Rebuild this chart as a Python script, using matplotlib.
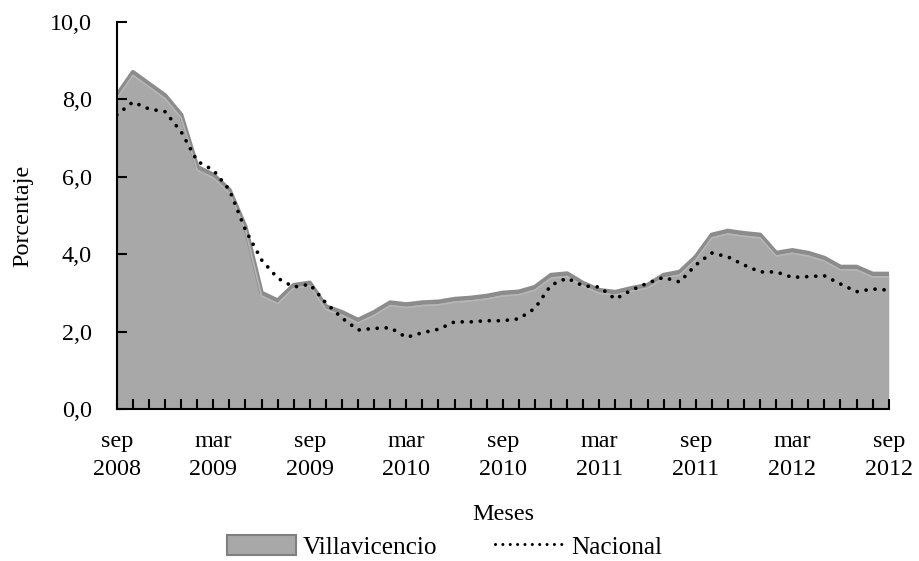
import matplotlib
matplotlib.use("Agg")
import matplotlib.pyplot as plt
from matplotlib.patches import Patch
from matplotlib.lines import Line2D

villavicencio = [8.1, 8.7, 8.4, 8.1, 7.6, 6.25, 6.05, 5.66, 4.7, 3.0, 2.8, 3.2,
                 3.26, 2.65, 2.5, 2.3, 2.5, 2.75, 2.7, 2.75, 2.77, 2.84, 2.87, 2.92,
                 3.0, 3.03, 3.15, 3.46, 3.5, 3.25, 3.07, 3.02, 3.12, 3.2, 3.46, 3.54,
                 3.93, 4.5, 4.6, 4.54, 4.5, 4.03, 4.1, 4.03, 3.9, 3.67, 3.67, 3.49, 3.49]
nacional = [7.6, 7.93, 7.75, 7.68, 7.16, 6.4, 6.17, 5.66, 4.62, 3.85, 3.38, 3.15,
            3.22, 2.74, 2.35, 2.04, 2.08, 2.1, 1.85, 1.97, 2.06, 2.25, 2.25, 2.28,
            2.28, 2.33, 2.6, 3.2, 3.38, 3.18, 3.15, 2.84, 3.07, 3.25, 3.4, 3.28,
            3.72, 4.03, 3.93, 3.72, 3.54, 3.54, 3.4, 3.42, 3.44, 3.23, 3.03, 3.1, 3.07]

tick_idx = list(range(0, 49, 6))
tick_labels = ["sep\n2008", "mar\n2009", "sep\n2009", "mar\n2010", "sep\n2010",
               "mar\n2011", "sep\n2011", "mar\n2012", "sep\n2012"]
y_ticks = [0, 2, 4, 6, 8, 10]

plt.rcParams['font.family'] = ['Liberation Serif', 'DejaVu Serif']
FS = 17.4
DOT = (0, (0.01, 2.4))

fig = plt.figure(figsize=(9.2, 5.61), dpi=100)
ax = fig.add_axes([0.127, 0.271, 0.839, 0.69])

x = list(range(len(villavicencio)))
ax.fill_between(x, 0, villavicencio, color='#a8a8a8', linewidth=0, zorder=1)
ax.plot(x, villavicencio, color='#8c8c8c', linewidth=3.2, solid_joinstyle='round', zorder=2)
ax.plot(x, [v - 0.08 for v in villavicencio], color='#b6b6b6', linewidth=1.2, zorder=2)
ax.plot(x, nacional, color='black', linewidth=2.7, linestyle=DOT,
        dash_capstyle='round', zorder=3)

ax.set_xlim(0, len(villavicencio) - 1)
ax.set_ylim(0, 10)
ax.set_yticks(y_ticks)
ax.set_yticklabels([f"{v:.1f}".replace('.', ',') for v in y_ticks], fontsize=FS)
ax.set_xticks(x, minor=True)
ax.set_xticks(tick_idx)
ax.set_xticklabels(tick_labels, fontsize=FS, linespacing=1.45)

for s in ['top', 'right']:
    ax.spines[s].set_visible(False)
for s in ['left', 'bottom']:
    ax.spines[s].set_linewidth(1.5)
    ax.spines[s].set_zorder(5)

ax.tick_params(axis='y', direction='in', length=7, width=1.5, pad=18)
ax.tick_params(axis='x', which='both', direction='in', length=7, width=1.5, pad=16)

fig.text(23/920, 1 - (22 + 409) / 2 / 561, "Porcentaje", rotation=90,
         ha='center', va='center', fontsize=FS)
fig.text(503/920, 1 - 520/561, "Meses", ha='center', va='baseline', fontsize=FS)

handles = [Patch(facecolor='#a8a8a8', edgecolor='#808080', linewidth=1.5),
           Line2D([0], [0], color='black', linewidth=2.2, linestyle=DOT,
                  dash_capstyle='round')]
fig.legend(handles, ["Villavicencio", "Nacional"], loc='center',
           bbox_to_anchor=(0.483, 0.025), ncol=2, frameon=False, fontsize=18.2,
           handlelength=2.75, handleheight=0.8, handletextpad=0.25,
           columnspacing=2.3, borderpad=0, borderaxespad=0)

fig.savefig("out.png", dpi=100)
